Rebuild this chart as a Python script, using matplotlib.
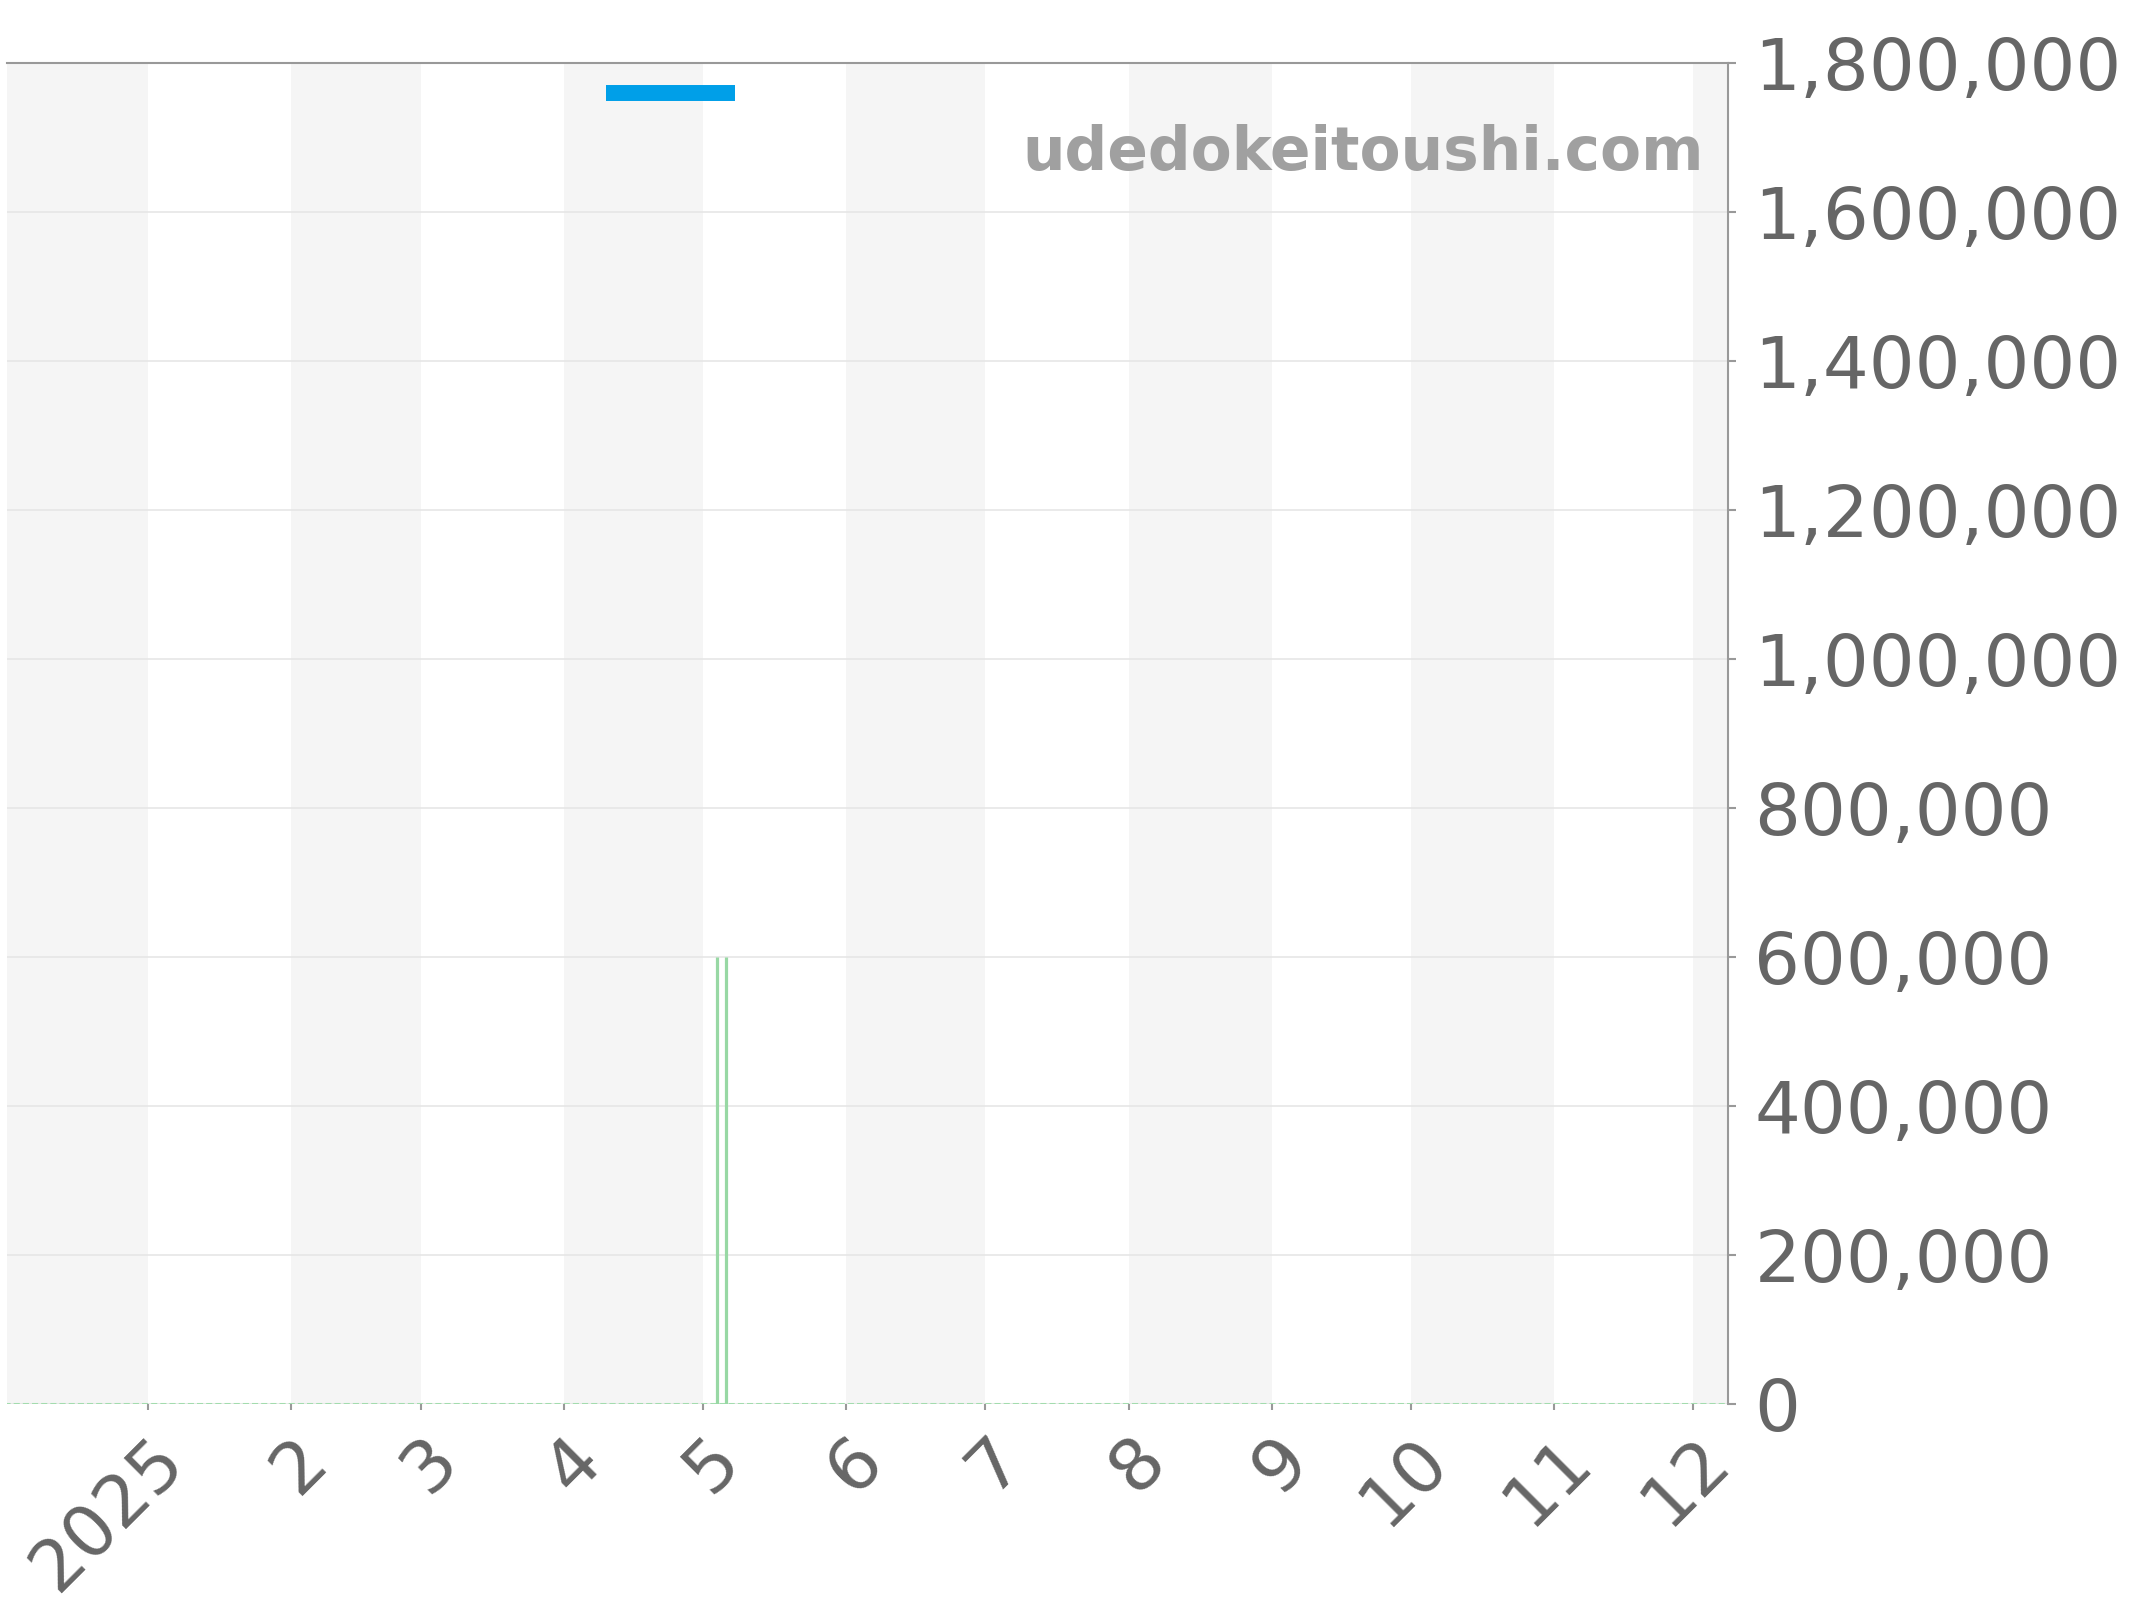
import matplotlib
matplotlib.use("Agg")
import matplotlib.pyplot as plt
import matplotlib.transforms as mtransforms
from matplotlib.ticker import FuncFormatter, MultipleLocator
import datetime as dt

# ---- data ----
range_dates = ["2025-04-10", "2025-05-08"]
range_values = [1760000, 1760000]

spike_dates = ["2025-05-04", "2025-05-06"]
spike_values = [600000, 600000]

base_dates = ["2024-12-01", "2025-12-09"]
base_values = [0, 0]

tick_dates = ["2025-01-01", "2025-02-01", "2025-03-01", "2025-04-01", "2025-05-01",
              "2025-06-01", "2025-07-01", "2025-08-01", "2025-09-01", "2025-10-01",
              "2025-11-01", "2025-12-01"]
tick_labels = ["2025", "2", "3", "4", "5", "6", "7", "8", "9", "10", "11", "12"]

y_max = 1800000
y_step = 200000
watermark = "udedokeitoushi.com"

def d(s):
    return dt.datetime.strptime(s, "%Y-%m-%d")

fig = plt.figure(figsize=(21.44, 16), dpi=100)
ax = fig.add_axes([0.0033, 0.1225, 0.8027, 0.8381])

x_lo = dt.datetime(2024, 12, 1, 14)
x_hi = dt.datetime(2025, 12, 8, 14)

# alternating month bands
month_starts = [dt.datetime(2024, 12, 1)] + [d(s) for s in tick_dates] + [dt.datetime(2026, 1, 1)]
for i in range(len(month_starts) - 1):
    if i % 2 == 0:
        ax.axvspan(month_starts[i], month_starts[i + 1], color="#f5f5f5", zorder=0, lw=0)

ax.yaxis.grid(True, color="#e6e6e6", lw=1.2, zorder=1)
ax.set_axisbelow(True)

ax.plot([d(s) for s in base_dates], base_values, color="#a3dcae", lw=2.2,
        ls=(0, (2, 1)), zorder=2)
ax.vlines([d(s) for s in spike_dates], 0, spike_values, color="#98d8a4", lw=2.3, zorder=3)
ax.plot([d(s) for s in range_dates], range_values, color="#009fe8", lw=11.5,
        solid_capstyle="butt", zorder=4)

ax.set_xlim(x_lo, x_hi)
ax.set_ylim(0, y_max)

ax.yaxis.tick_right()
ax.yaxis.set_major_locator(MultipleLocator(y_step))
ax.yaxis.set_major_formatter(FuncFormatter(lambda v, p: f"{int(v):,}"))
ax.tick_params(axis="y", labelsize=52, colors="#999999", labelcolor="#666666",
               length=6, width=1.5, pad=13)

ax.set_xticks([d(s) for s in tick_dates])
ax.set_xticklabels(tick_labels)
ax.tick_params(axis="x", labelsize=52, colors="#999999", labelcolor="#666666",
               length=4, width=1.5, pad=11)
offset = mtransforms.ScaledTranslation(50 / 100, 0, fig.dpi_scale_trans)
for lab in ax.get_xticklabels():
    lab.set_rotation(45)
    lab.set_ha("right")
    lab.set_va("top")
    lab.set_transform(lab.get_transform() + offset)

for side in ["left", "bottom"]:
    ax.spines[side].set_visible(False)
for side in ["top", "right"]:
    ax.spines[side].set_color("#999999")
    ax.spines[side].set_linewidth(1.5)

ax.text(0.986, 0.92, watermark, transform=ax.transAxes, ha="right", va="baseline",
        fontsize=43, fontweight="bold", color="#a0a0a0", zorder=5)

fig.savefig("out.png", dpi=100, facecolor="white")
